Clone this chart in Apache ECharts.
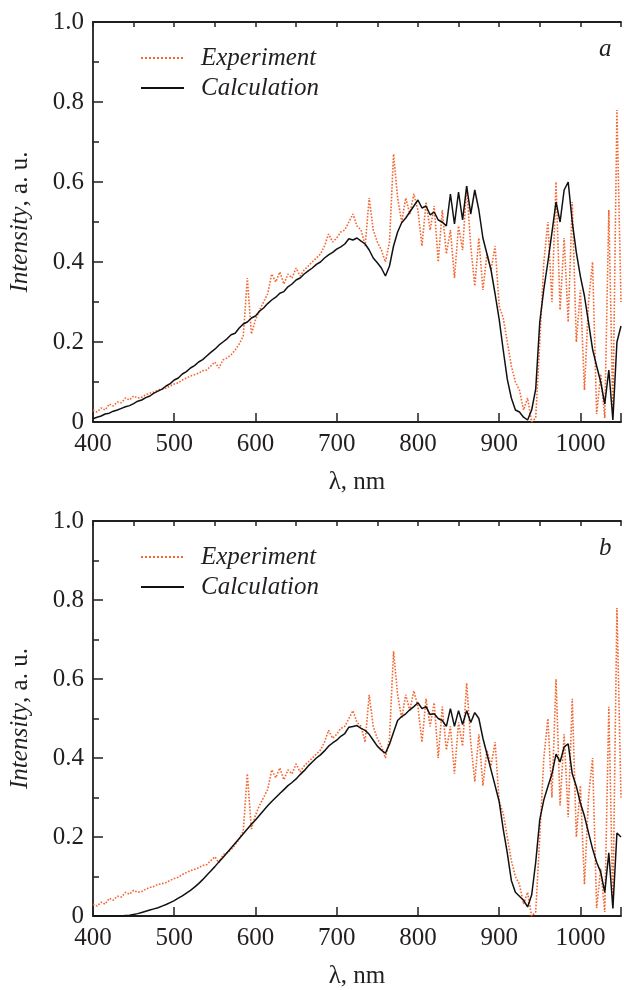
<!DOCTYPE html>
<html>
<head>
<meta charset="utf-8">
<script src="https://cdn.jsdelivr.net/npm/echarts@6/dist/echarts.min.js"></script>
<style>
  html, body { margin: 0; padding: 0; background: #fff; }
  #main { width: 624px; height: 990px; }
</style>
</head>
<body>
<div id="main"></div>
<script>
// wavelength grid, nm (5 nm step, 400..1050)
var wavelengths = [];
for (var w = 400; w <= 1050; w += 5) wavelengths.push(w);

// measured spectrum (same in both panels)
var experiment = [
  0.030,0.025,0.035,0.030,0.045,0.040,0.050,0.048,0.060,0.055,0.065,0.060,0.062,0.068,0.072,0.075,0.080,0.082,0.085,0.090,
  0.095,0.098,0.105,0.110,0.115,0.118,0.122,0.128,0.130,0.140,0.150,0.135,0.155,0.160,0.168,0.180,0.195,0.215,0.360,0.220,
  0.255,0.280,0.300,0.320,0.370,0.350,0.375,0.345,0.370,0.360,0.385,0.365,0.380,0.390,0.400,0.410,0.420,0.440,0.470,0.450,
  0.460,0.475,0.480,0.500,0.520,0.490,0.480,0.440,0.560,0.480,0.450,0.430,0.400,0.450,0.670,0.560,0.500,0.560,0.520,0.570,
  0.530,0.440,0.550,0.480,0.540,0.400,0.530,0.420,0.480,0.360,0.490,0.430,0.590,0.440,0.340,0.460,0.330,0.420,0.380,0.440,
  0.290,0.260,0.200,0.140,0.100,0.080,0.030,0.060,0.000,0.010,0.200,0.400,0.500,0.300,0.600,0.280,0.460,0.250,0.550,0.200,
  0.330,0.080,0.300,0.400,0.020,0.120,0.010,0.530,0.020,0.780,0.300
];

// calculation, panel a
var calcA = [
  0.008,0.012,0.015,0.020,0.022,0.027,0.030,0.034,0.038,0.041,0.046,0.052,0.055,0.061,0.065,0.072,0.077,0.082,0.090,0.096,
  0.105,0.110,0.120,0.126,0.135,0.141,0.150,0.156,0.165,0.174,0.182,0.192,0.200,0.208,0.218,0.222,0.235,0.245,0.250,0.260,
  0.265,0.277,0.285,0.296,0.305,0.312,0.322,0.326,0.338,0.345,0.355,0.360,0.370,0.378,0.385,0.394,0.400,0.410,0.418,0.424,
  0.432,0.438,0.445,0.458,0.455,0.460,0.452,0.445,0.430,0.410,0.398,0.385,0.365,0.390,0.440,0.475,0.498,0.510,0.525,0.540,
  0.555,0.535,0.540,0.518,0.525,0.505,0.500,0.490,0.570,0.495,0.575,0.505,0.590,0.520,0.580,0.530,0.460,0.420,0.380,0.320,
  0.257,0.180,0.107,0.060,0.030,0.025,0.012,0.005,0.030,0.082,0.250,0.332,0.400,0.474,0.550,0.500,0.580,0.600,0.500,0.424,
  0.364,0.315,0.249,0.182,0.140,0.100,0.045,0.130,0.005,0.200,0.240
];

// calculation, panel b
var calcB = [
  0.000,0.000,0.000,0.000,0.000,0.000,0.000,0.000,0.001,0.002,0.004,0.006,0.009,0.012,0.015,0.018,0.021,0.025,0.029,0.034,
  0.039,0.045,0.051,0.058,0.065,0.073,0.082,0.092,0.103,0.114,0.125,0.137,0.148,0.160,0.172,0.184,0.196,0.208,0.220,0.232,
  0.243,0.255,0.267,0.279,0.290,0.300,0.310,0.320,0.330,0.338,0.347,0.358,0.368,0.380,0.390,0.400,0.408,0.418,0.430,0.438,
  0.445,0.455,0.462,0.478,0.480,0.482,0.475,0.470,0.460,0.445,0.430,0.420,0.412,0.435,0.465,0.495,0.505,0.512,0.522,0.530,
  0.540,0.525,0.530,0.510,0.512,0.500,0.495,0.480,0.525,0.480,0.520,0.485,0.520,0.490,0.515,0.500,0.450,0.410,0.370,0.330,
  0.290,0.220,0.160,0.090,0.060,0.050,0.040,0.023,0.053,0.136,0.244,0.294,0.328,0.360,0.410,0.390,0.428,0.436,0.360,0.328,
  0.286,0.253,0.211,0.170,0.136,0.111,0.060,0.160,0.019,0.210,0.200
];

var panelLetters = ['a', 'b'];

function pairs(ys) {
  return wavelengths.map(function (x, i) { return [x, ys[i]]; });
}

var font = 'Liberation Serif';
var ink = '#231f20';
var orange = '#f4652f';
var tops = [22, 521];

var grids = [], xAxes = [], yAxes = [], series = [], legends = [], titles = [];

tops.forEach(function (top, g) {
  grids.push({ left: 89, right: 0, top: top, height: 400 });

  // main bottom axis: labels + long ticks
  xAxes.push({
    type: 'value', gridIndex: g, min: 400, max: 1050, interval: 100,
    name: 'λ, nm', nameLocation: 'middle', nameGap: 48,
    nameTextStyle: { fontFamily: font, fontSize: 25, color: ink },
    axisLine: { show: true, onZero: false, lineStyle: { color: ink, width: 1.8 } },
    axisTick: { show: true, inside: true, length: 9, lineStyle: { color: ink, width: 1.5 } },
    axisLabel: {
      fontFamily: font, fontSize: 25, color: ink, margin: 10,
      formatter: function (v) { return v === 1050 ? '' : String(v); }
    },
    splitLine: { show: false }
  });
  // minor ticks every 50 nm
  xAxes.push({
    type: 'value', gridIndex: g, min: 400, max: 1050, interval: 50,
    axisLine: { show: false, onZero: false },
    axisTick: { show: true, inside: true, length: 5, lineStyle: { color: ink, width: 1.5 } },
    axisLabel: { show: false },
    splitLine: { show: false }
  });
  // top frame line
  xAxes.push({
    type: 'value', gridIndex: g, position: 'top', min: 400, max: 1050,
    axisLine: { show: true, onZero: false, lineStyle: { color: ink, width: 1.8 } },
    axisTick: { show: false }, axisLabel: { show: false }, splitLine: { show: false }
  });

  yAxes.push({
    type: 'value', gridIndex: g, min: 0, max: 1, interval: 0.2,
    name: '{i|Intensity}, a. u.', nameLocation: 'middle', nameGap: 60,
    nameTextStyle: {
      fontFamily: font, fontSize: 25, color: ink,
      rich: { i: { fontFamily: font, fontSize: 25, fontStyle: 'italic', color: ink } }
    },
    axisLine: { show: true, lineStyle: { color: ink, width: 1.8 } },
    axisTick: { show: true, inside: true, length: 10, lineStyle: { color: ink, width: 1.5 } },
    minorTick: { show: true, splitNumber: 2, length: 6, lineStyle: { color: ink, width: 1.5 } },
    axisLabel: {
      fontFamily: font, fontSize: 25, color: ink, margin: 9,
      formatter: function (v) { return v === 0 ? '0' : v.toFixed(1); }
    },
    splitLine: { show: false }
  });

  series.push({
    name: 'Experiment', type: 'line', xAxisIndex: g * 3, yAxisIndex: g,
    data: pairs(experiment), symbol: 'none', z: 2,
    lineStyle: { color: orange, width: 1.6, type: 'dotted' }, itemStyle: { color: orange }
  });
  series.push({
    name: 'Calculation', type: 'line', xAxisIndex: g * 3, yAxisIndex: g,
    data: pairs(g === 0 ? calcA : calcB), symbol: 'none', z: 3,
    lineStyle: { color: '#111', width: 1.5 }, itemStyle: { color: '#111' }
  });

  legends.push({
    orient: 'vertical', left: 135, top: top + 18, itemWidth: 43, itemHeight: 14, itemGap: 4,
    selectedMode: false,
    itemStyle: { opacity: 0 },
    data: ['Experiment', 'Calculation'],
    textStyle: { fontFamily: font, fontSize: 25, fontStyle: 'italic', color: ink, padding: [0, 0, 0, 12], lineHeight: 26 }
  });

  titles.push({
    text: panelLetters[g], left: 594, top: top + 10,
    textStyle: { fontFamily: font, fontSize: 25, fontStyle: 'italic', fontWeight: 'normal', color: ink }
  });
});

var myChart = echarts.init(document.getElementById('main'));
myChart.setOption({
  animation: false,
  backgroundColor: '#fff',
  title: titles,
  legend: legends,
  grid: grids,
  xAxis: xAxes,
  yAxis: yAxes,
  series: series
});
</script>
</body>
</html>
